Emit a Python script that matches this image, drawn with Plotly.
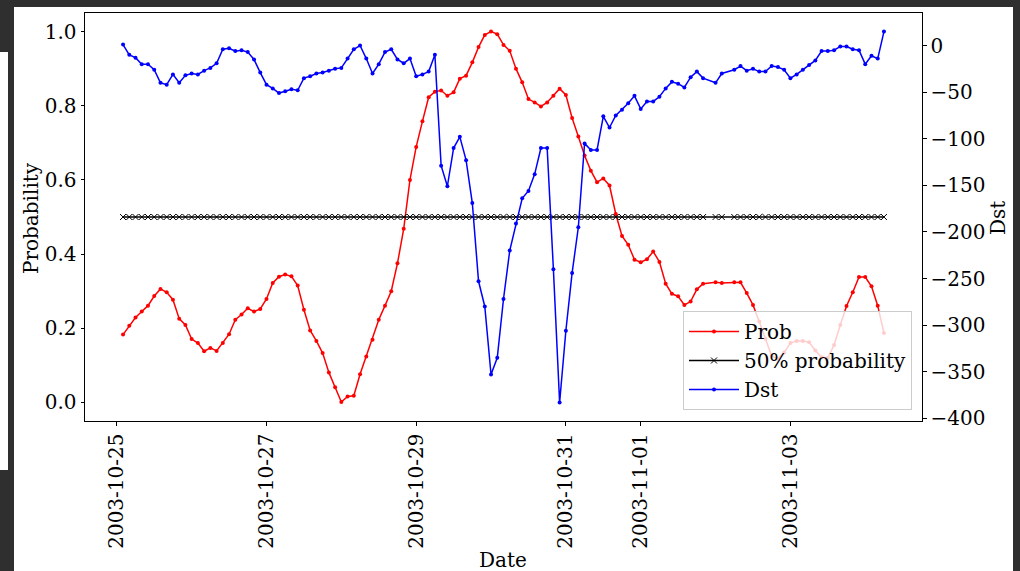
import pandas as pd
import plotly.graph_objects as go

# ---------------- data ----------------
start_time = "2003-10-25 02:00"
n_steps = 123                      # 2-hourly samples
missing_times = ["2003-11-01 22:00", "2003-11-02 04:00"]

prob = [
    0.183, 0.207, 0.229, 0.245, 0.261, 0.287, 0.306, 0.297, 0.277, 0.226,
    0.209, 0.171, 0.160, 0.138, 0.147, 0.139, 0.160, 0.184, 0.223, 0.237,
    0.254, 0.245, 0.252, 0.279, 0.322, 0.339, 0.345, 0.340, 0.315, 0.250,
    0.194, 0.166, 0.133, 0.081, 0.041, 0.001, 0.016, 0.018, 0.076, 0.124,
    0.169, 0.223, 0.261, 0.300, 0.375, 0.468, 0.600, 0.689, 0.758, 0.823,
    0.838, 0.841, 0.827, 0.836, 0.873, 0.881, 0.917, 0.958, 0.991, 1.000,
    0.993, 0.964, 0.948, 0.900, 0.863, 0.818, 0.809, 0.798, 0.809, 0.827,
    0.846, 0.829, 0.767, 0.717, 0.666, 0.625, 0.594, 0.604, 0.585, 0.508,
    0.449, 0.425, 0.385, 0.378, 0.386, 0.407, 0.379, 0.320, 0.293, 0.286,
    0.263, 0.272, 0.305, 0.320, 0.324, 0.322, 0.324, 0.324, 0.295, 0.263,
    0.218, 0.172, 0.125, 0.118, 0.135, 0.160, 0.166, 0.166, 0.162, 0.140,
    0.122, 0.120, 0.155, 0.209, 0.260, 0.297, 0.338, 0.338, 0.313, 0.261,
    0.187,
]

dst = [
    1, -10, -13, -20, -20, -26, -40, -42, -31, -40,
    -32, -30, -31, -27, -24, -19, -4, -3, -6, -5,
    -7, -15, -29, -42, -46, -51, -49, -47, -48, -35,
    -33, -30, -29, -27, -25, -24, -14, -4, 0, -14,
    -30, -20, -7, -4, -15, -19, -14, -33, -31, -28,
    -10, -129, -151, -110, -98, -123, -169, -253, -280, -353,
    -335, -272, -220, -191, -164, -156, -138, -110, -110, -240,
    -383, -306, -244, -195, -105, -112, -112, -76, -88, -75,
    -69, -62, -54, -68, -60, -60, -55, -46, -39, -41,
    -45, -34, -28, -35, -40, -30, -26, -22, -27, -25,
    -28, -28, -22, -23, -26, -35, -31, -26, -21, -16,
    -6, -6, -5, -1, -1, -4, -5, -20, -11, -14,
    15,
]

threshold = 0.5

tick_dates = ["2003-10-25", "2003-10-27", "2003-10-29", "2003-10-31",
              "2003-11-01", "2003-11-03"]
tick_text = tick_dates

# ---------------- build ----------------
all_times = pd.date_range(start_time, periods=n_steps, freq="2h")
times = all_times[~all_times.isin(pd.to_datetime(missing_times))]
half = [threshold] * len(times)

W, H = 1020, 571
L, R, T, B = 85, 922, 13, 421          # plot-area pixel box
PW, PH = R - L, B - T


def px(x):
    return (x - L) / PW


def py(y):
    return (B - y) / PH


FONT = "DejaVu Serif"
DARK = "#2f2f2f"

fig = go.Figure()
fig.add_trace(go.Scatter(
    x=times, y=prob, name="Prob", mode="lines+markers",
    line=dict(color="red", width=1.5),
    marker=dict(color="red", size=4),
))
fig.add_trace(go.Scatter(
    x=times, y=half, name="50% probability", mode="lines+markers",
    line=dict(color="black", width=1.5),
    marker=dict(symbol="x-thin", size=6, color="black",
                line=dict(color="black", width=1)),
))
fig.add_trace(go.Scatter(
    x=times, y=dst, name="Dst", mode="lines+markers", yaxis="y2",
    line=dict(color="blue", width=1.5),
    marker=dict(color="blue", size=4),
))

axis_common = dict(
    showline=True, linecolor="black", linewidth=1,
    ticks="outside", ticklen=3.5, tickwidth=1, tickcolor="black",
    showgrid=False, zeroline=False,
    tickfont=dict(family=FONT, size=20, color="black"),
)

fig.update_layout(
    width=W, height=571,
    margin=dict(l=L, r=W - R, t=T, b=H - B),
    paper_bgcolor="white", plot_bgcolor="white",
    font=dict(family=FONT, size=20, color="black"),
    xaxis=dict(
        type="date",
        range=["2003-10-24 13:48", "2003-11-04 18:12"],
        tickvals=tick_dates, ticktext=tick_text, tickangle=-90,
        mirror=True, **axis_common,
    ),
    yaxis=dict(
        range=[-0.05, 1.05], tick0=0, dtick=0.2, tickformat=".1f",
        mirror=True, **axis_common,
    ),
    yaxis2=dict(
        overlaying="y", side="right",
        range=[-402.9, 34.9], tick0=0, dtick=50,
        **axis_common,
    ),
    legend=dict(
        x=px(912), y=py(410), xanchor="right", yanchor="bottom",
        bgcolor="rgba(255,255,255,0.8)", bordercolor="#cccccc", borderwidth=1,
        font=dict(family=FONT, size=20, color="black"),
        tracegroupgap=0, itemwidth=50,
    ),
    showlegend=True,
)

# axis titles
fig.add_annotation(text="Date", x=px(503), y=py(560), xref="paper", yref="paper",
                   showarrow=False, xanchor="center", yanchor="middle",
                   font=dict(family=FONT, size=20, color="black"))
fig.add_annotation(text="Probability", x=px(31), y=py(218), xref="paper", yref="paper",
                   showarrow=False, textangle=-90, xanchor="center", yanchor="middle",
                   font=dict(family=FONT, size=20, color="black"))
fig.add_annotation(text="Dst", x=px(998), y=py(218), xref="paper", yref="paper",
                   showarrow=False, textangle=-90, xanchor="center", yanchor="middle",
                   font=dict(family=FONT, size=20, color="black"))

# dark screenshot frame around the figure
frame_rects = [
    (0, 0, W, 7),        # top band
    (0, 0, 14, 52),      # left upper block
    (8, 52, 14, 470),    # left thin strip
    (0, 470, 14, H),     # left lower block
    (1013, 0, W, H),     # right strip
]
for x0, y0, x1, y1 in frame_rects:
    fig.add_shape(type="rect", xref="paper", yref="paper",
                  x0=px(x0), x1=px(x1), y0=py(y1), y1=py(y0),
                  fillcolor=DARK, line=dict(width=0), layer="above")

fig.write_html("out.html")
